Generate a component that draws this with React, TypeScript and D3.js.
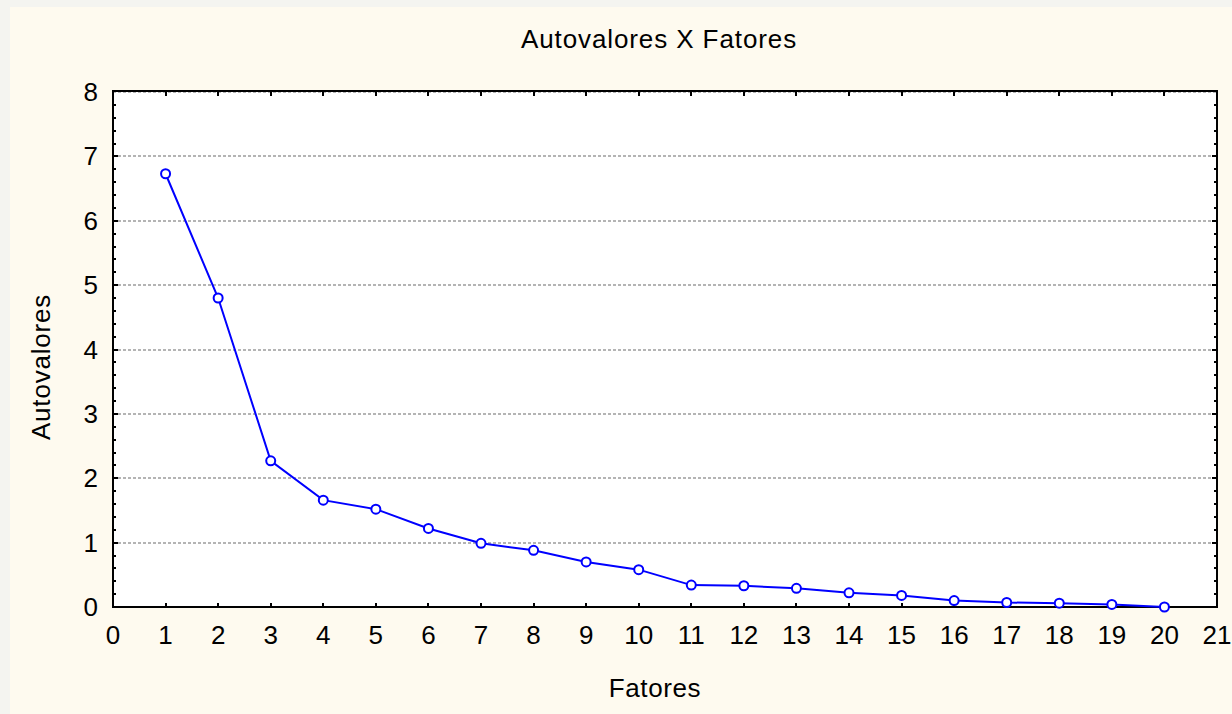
import React from "react";
import * as d3 from "d3";

// eigenvalues
const factors = [1, 2, 3, 4, 5, 6, 7, 8, 9, 10, 11, 12, 13, 14, 15, 16, 17, 18, 19, 20];
const eigenvalues = [
  6.73, 4.8, 2.27, 1.66, 1.52, 1.22, 0.99, 0.88, 0.7, 0.58,
  0.34, 0.33, 0.29, 0.22, 0.18, 0.1, 0.07, 0.06, 0.04, 0.0,
];
const xTicks = d3.range(0, 22);
const yTicks = d3.range(0, 9);
const yMinorTicks = d3.range(0, 40).map((d) => d / 5);

const title = "Autovalores X Fatores";
const xLabel = "Fatores";
const yLabel = "Autovalores";

const W = 1232;
const H = 714;
const FONT = "'Liberation Sans', Arial, sans-serif";

export default function App() {
  const x = d3.scaleLinear().domain([0, 21]).range([113, 1217]);
  const y = d3.scaleLinear().domain([0, 8]).range([607, 92]);
  const pts = factors.map((f, i) => [f, eigenvalues[i]] as [number, number]);
  const line = d3
    .line<[number, number]>()
    .x((d) => x(d[0]))
    .y((d) => y(d[1]));

  const [x0, x1] = x.range();
  const [y0, y1] = y.range();
  const snap = (v: number) => Math.round(v);

  return (
    <svg
      width={W}
      height={H}
      style={{ position: "absolute", left: 0, top: 0, fontFamily: FONT }}
    >
      <rect x={0} y={0} width={W} height={H} fill="#f4f4f0" />
      <rect x={10} y={7} width={W - 10} height={H - 7} fill="#fefaef" />

      <text x={659} y={48} textAnchor="middle" fontSize={26} fill="#000" letterSpacing={0.9}>
        {title}
      </text>

      {/* plot area */}
      <rect x={x0} y={y1} width={x1 - x0} height={y0 - y1} fill="#fff" />

      {/* gridlines */}
      {yTicks.slice(1).map((t) => (
        <line
          key={"g" + t}
          x1={x0}
          x2={x1}
          y1={snap(y(t))}
          y2={snap(y(t))}
          stroke="#b4b4b4"
          strokeWidth={2}
          strokeDasharray="3,2"
        />
      ))}

      {/* minor / major ticks on left and right */}
      {yMinorTicks.map((t) => {
        const len = Number.isInteger(t) ? 5 : 3;
        const ty = snap(y(t));
        return (
          <g key={"yt" + t}>
            <line x1={x0} x2={x0 + len} y1={ty} y2={ty} stroke="#000" strokeWidth={2} />
            <line x1={x1} x2={x1 - len} y1={ty} y2={ty} stroke="#000" strokeWidth={2} />
          </g>
        );
      })}
      {/* x ticks top and bottom */}
      {xTicks.map((t) => (
        <g key={"xt" + t}>
          <line x1={snap(x(t))} x2={snap(x(t))} y1={y0} y2={y0 - 4} stroke="#000" strokeWidth={2} />
          <line x1={snap(x(t))} x2={snap(x(t))} y1={y1} y2={y1 + 4} stroke="#000" strokeWidth={2} />
        </g>
      ))}

      {/* frame */}
      <rect
        x={x0}
        y={y1 - 1}
        width={x1 - x0}
        height={y0 - y1 + 1}
        fill="none"
        stroke="#000"
        strokeWidth={2}
      />

      {/* tick labels */}
      {yTicks.map((t) => (
        <text
          key={"yl" + t}
          x={98}
          y={y(t)}
          textAnchor="end"
          dominantBaseline="central"
          fontSize={26}
          fill="#000"
        >
          {t}
        </text>
      ))}
      {xTicks.map((t) => (
        <text key={"xl" + t} x={x(t)} y={644} textAnchor="middle" fontSize={26} fill="#000">
          {t}
        </text>
      ))}

      {/* axis titles */}
      <text x={655} y={697} textAnchor="middle" fontSize={26} fill="#000" letterSpacing={0.6}>
        {xLabel}
      </text>
      <text
        transform="translate(50,367) rotate(-90)"
        textAnchor="middle"
        fontSize={26}
        fill="#000"
        letterSpacing={0.8}
      >
        {yLabel}
      </text>

      {/* series */}
      <path d={line(pts) ?? ""} fill="none" stroke="#0000ff" strokeWidth={2} />
      {pts.map((d, i) => (
        <circle
          key={"p" + i}
          cx={x(d[0])}
          cy={y(d[1])}
          r={4.5}
          fill="#fff"
          stroke="#0000ff"
          strokeWidth={2}
        />
      ))}
    </svg>
  );
}
